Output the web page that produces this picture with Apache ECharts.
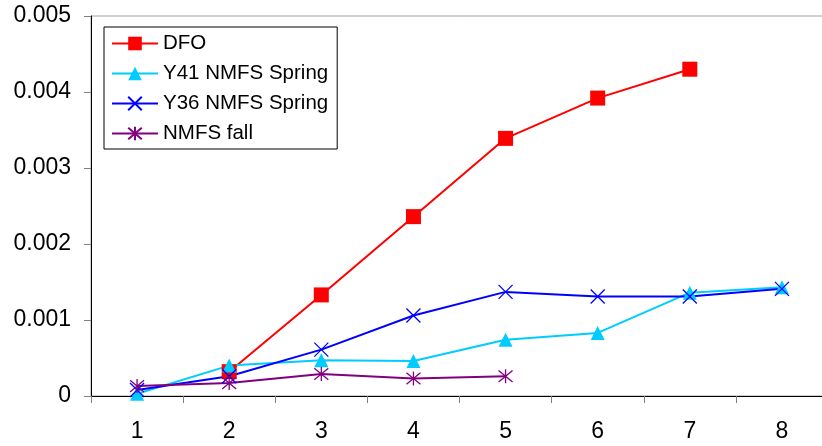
<!DOCTYPE html>
<html>
<head>
<meta charset="utf-8">
<script src="https://cdn.jsdelivr.net/npm/echarts@6/dist/echarts.min.js"></script>
<style>
  html, body { margin: 0; padding: 0; background: #fff; overflow: hidden; }
  /* the plot runs slightly past the right edge of the view */
  #chart { width: 828px; height: 446px; }
</style>
</head>
<body>
<div id="chart"></div>
<script>
// Sampling stations along the x axis
const categories = ['1', '2', '3', '4', '5', '6', '7', '8'];

// Series values (null where a survey has no estimate)
const dfo = [null, 0.00032, 0.00133, 0.00236, 0.00339, 0.00392, 0.00430, null];
const y41Spring = [0.00003, 0.00040, 0.00047, 0.00046, 0.00074, 0.00083, 0.00136, 0.00143];
const y36Spring = [0.00008, 0.00026, 0.00061, 0.00106, 0.00137, 0.00131, 0.00131, 0.00141];
const nmfsFall = [0.00013, 0.00017, 0.00029, 0.00023, 0.00026, null, null, null];

// Value axis ticks
const yTicks = [0, 0.001, 0.002, 0.003, 0.004, 0.005];

const crossPath = 'path://M0,0L10,10M10,0L0,10';
const starPath = 'path://M0,0L10,10M10,0L0,10M5,-1L5,11';

function lineSeries(name, data, color, symbol, size, strokeMarker) {
  return {
    name: name,
    type: 'line',
    data: data,
    symbol: symbol,
    symbolSize: size,
    showAllSymbol: true,
    connectNulls: false,
    lineStyle: { color: color, width: 2 },
    itemStyle: strokeMarker
      ? { color: color, borderColor: color, borderWidth: 1.3 }
      : { color: color, borderWidth: 0 },
    emphasis: { disabled: true },
    animation: false
  };
}

const chart = echarts.init(document.getElementById('chart'));
chart.setOption({
  backgroundColor: '#ffffff',
  animation: false,
  grid: {
    left: 91, top: 16, right: 0, bottom: 50,
    show: true, borderColor: '#a0a0a0', borderWidth: 1, backgroundColor: 'transparent'
  },
  legend: {
    left: 104, top: 27,
    orient: 'vertical',
    padding: [6, 9, 5, 7],
    itemGap: 9,
    itemWidth: 46,
    itemHeight: 17,
    backgroundColor: '#ffffff',
    borderColor: '#000000',
    borderWidth: 1,
    textStyle: { fontFamily: 'Liberation Sans, Arial', fontSize: 20.5, color: '#000', padding: [0, 0, 0, 0] },
    data: ['DFO', 'Y41 NMFS Spring', 'Y36 NMFS Spring', 'NMFS fall']
  },
  xAxis: {
    type: 'category',
    data: categories,
    boundaryGap: true,
    axisLine: { lineStyle: { color: '#000', width: 1 } },
    axisTick: { show: true, length: 7, lineStyle: { color: '#808080' } },
    axisLabel: { fontFamily: 'Liberation Sans, Arial', fontSize: 23, color: '#000', margin: 24 },
    splitLine: { show: false }
  },
  yAxis: {
    type: 'value',
    min: yTicks[0],
    max: yTicks[yTicks.length - 1],
    interval: yTicks[1] - yTicks[0],
    axisLine: { show: true, lineStyle: { color: '#000', width: 1 } },
    axisTick: { show: true, length: 7, lineStyle: { color: '#808080' } },
    axisLabel: {
      fontFamily: 'Liberation Sans, Arial', fontSize: 23, color: '#000', margin: 20,
      formatter: function (v) { return v === 0 ? '0' : v.toFixed(3); }
    },
    splitLine: { show: false }
  },
  series: [
    lineSeries('DFO', dfo, '#ff0000', 'rect', 15, false),
    lineSeries('Y41 NMFS Spring', y41Spring, '#00ccff', 'triangle', 14, false),
    lineSeries('Y36 NMFS Spring', y36Spring, '#0000ff', crossPath, 14, true),
    lineSeries('NMFS fall', nmfsFall, '#800080', starPath, 14, true)
  ]
});
</script>
</body>
</html>
